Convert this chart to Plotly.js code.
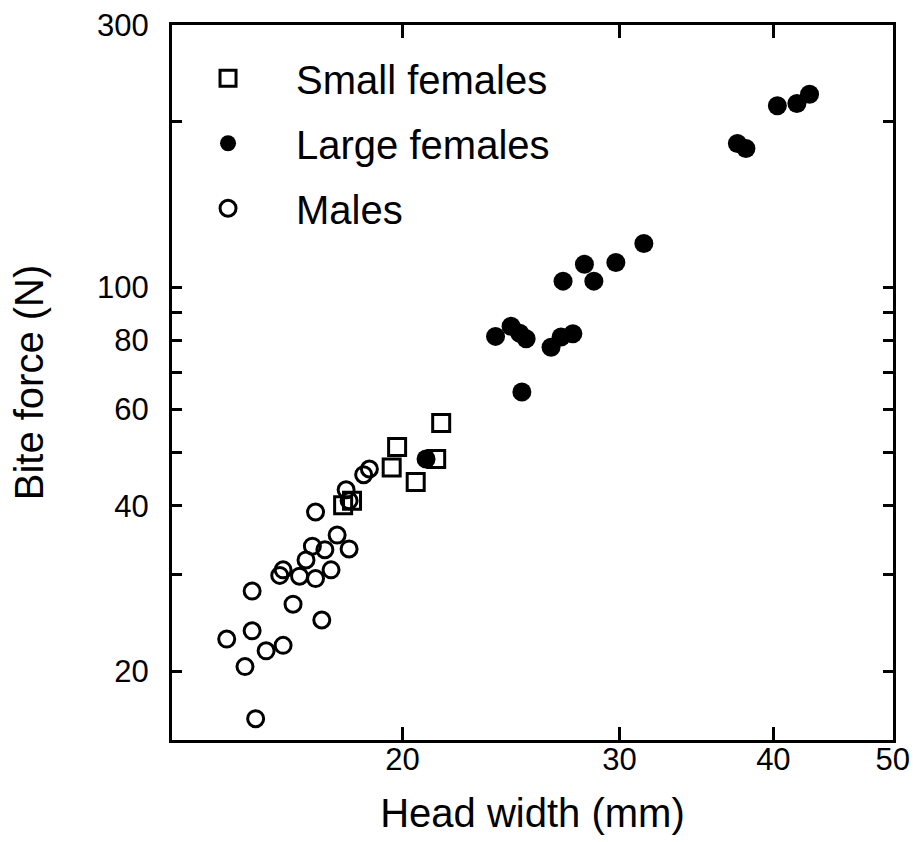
<!DOCTYPE html>
<html>
<head>
<meta charset="utf-8">
<script src="https://cdn.plot.ly/plotly-3.0.1.min.js"></script>
<style>html,body{margin:0;padding:0;background:#fff;}#chart{width:918px;height:842px;}</style>
</head>
<body>
<div id="chart"></div>
<script>
// Small females (open squares)
const smallFemalesX = [21.5, 19.8, 19.6, 20.5, 21.3, 17.9, 18.2];
const smallFemalesY = [56.6, 51.2, 47.0, 44.2, 48.7, 40.1, 40.9];

// Large females (filled circles)
const largeFemalesX = [23.8, 24.5, 24.9, 25.2, 26.4, 26.9, 27.5, 25.0, 27.0, 28.1, 28.6, 29.8, 31.4, 40.3, 41.8, 42.8, 37.4, 38.0, 20.9];
const largeFemalesY = [81.4, 84.9, 82.5, 80.6, 77.8, 81.2, 82.3, 64.5, 102.6, 110.1, 102.6, 110.9, 120.1, 213.9, 216.0, 224.6, 182.7, 178.9, 48.7];

// Males (open circles)
const malesX = [18.8, 18.6, 18.0, 18.1, 17.0, 17.7, 16.9, 17.3, 18.1, 16.7, 17.5, 16.0, 15.9, 16.5, 17.0, 15.1, 16.3, 17.2, 15.1, 14.4, 16.0, 15.5, 14.9, 15.2];
const malesY = [46.7, 45.6, 42.8, 40.9, 39.0, 35.4, 33.8, 33.3, 33.4, 31.9, 30.6, 30.6, 29.9, 29.8, 29.5, 28.0, 26.5, 24.8, 23.7, 22.9, 22.3, 21.8, 20.4, 16.4];

// Axis ticks
const xTickVals = [20, 30, 40, 50];
const xTickText = ["20", "30", "40", "50"];
const yTickVals = [20, 40, 60, 80, 100, 300];
const yTickText = ["20", "40", "60", "80", "100", "300"];
const yMinorVals = [30, 50, 70, 90, 200];
const yLongTickVals = [100];

const xRange = [13, 50];
const yRange = [15, 300];

const FONT = "Liberation Sans, Arial, Helvetica, sans-serif";

const traces = [
  {
    x: smallFemalesX, y: smallFemalesY, name: "Small females",
    type: "scatter", mode: "markers", legendgroup: "a",
    marker: {symbol: "square-open", size: 17, color: "#000", line: {width: 3, color: "#000"}}
  },
  {
    x: largeFemalesX, y: largeFemalesY, name: "Large females",
    type: "scatter", mode: "markers", legendgroup: "b",
    marker: {symbol: "circle", size: 19, color: "#000", line: {width: 0}}
  },
  {
    x: malesX, y: malesY, name: "Males",
    type: "scatter", mode: "markers", legendgroup: "c",
    marker: {symbol: "circle-open", size: 16, color: "#000", line: {width: 3, color: "#000"}}
  }
];

const logR = r => [Math.log10(r[0]), Math.log10(r[1]) + 0.0002];

const layout = {
  width: 918, height: 842,
  margin: {l: 172, r: 25, t: 25, b: 102, pad: 0},
  paper_bgcolor: "#fff", plot_bgcolor: "#fff",
  font: {family: FONT, color: "#000", size: 31},
  showlegend: true,
  legend: {
    x: -0.0166, y: 0.971, xanchor: "left", yanchor: "top",
    font: {family: FONT, size: 40, color: "#000"},
    bgcolor: "rgba(0,0,0,0)", borderwidth: 0,
    traceorder: "grouped", tracegroupgap: 10, itemwidth: 126
  },
  xaxis: {
    type: "log", range: logR(xRange),
    tickmode: "array", tickvals: xTickVals, ticktext: xTickText,
    ticks: "inside", ticklen: 13, tickwidth: 3, tickcolor: "#000",
    showline: true, linewidth: 3, linecolor: "#000", mirror: "ticks",
    showgrid: false, zeroline: false,
    tickfont: {family: FONT, size: 31, color: "#000"},
    ticklabelstandoff: -10,
    title: {text: "Head width (mm)", font: {family: FONT, size: 40, color: "#000"}, standoff: 23}
  },
  yaxis: {
    type: "log", range: logR(yRange),
    tickmode: "array", tickvals: yTickVals, ticktext: yTickText,
    ticks: "inside", ticklen: 10, tickwidth: 3, tickcolor: "#000",
    minor: {tickmode: "array", tickvals: yMinorVals, ticks: "inside", ticklen: 10, tickwidth: 3, tickcolor: "#000", showgrid: false},
    showline: true, linewidth: 3, linecolor: "#000", mirror: "ticks",
    showgrid: false, zeroline: false,
    tickfont: {family: FONT, size: 31, color: "#000"},
    ticklabelstandoff: 14,
    title: {text: "Bite force (N)", font: {family: FONT, size: 40, color: "#000"}, standoff: 42}
  },
  yaxis2: {
    type: "log", range: logR(yRange), overlaying: "y", anchor: "x", side: "left",
    tickmode: "array", tickvals: yLongTickVals,
    ticks: "inside", ticklen: 20, tickwidth: 3, tickcolor: "#000",
    showticklabels: false, showline: false, mirror: "ticks",
    showgrid: false, zeroline: false
  }
};

Plotly.newPlot("chart", traces, layout, {displayModeBar: false, staticPlot: true});
</script>
</body>
</html>
